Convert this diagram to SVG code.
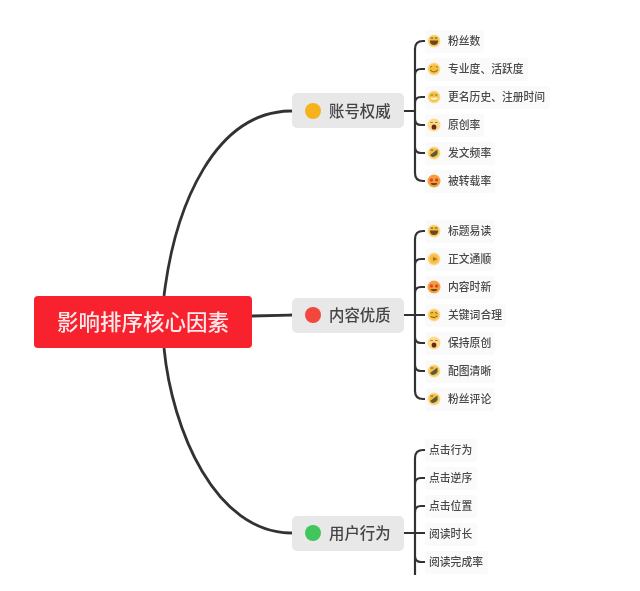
<svg xmlns="http://www.w3.org/2000/svg" width="640" height="591" viewBox="0 0 640 591">
<style>
.c{fill:none;stroke:#333;stroke-width:2.2;stroke-linecap:butt}
.m{fill:none;stroke:#333;stroke-width:2.8}
text{font-family:"Noto Sans CJK SC","Liberation Sans",sans-serif;font-weight:500}
.l{font-size:10.8px;fill:#4a4a4a;dominant-baseline:central}
.b{font-size:15.4px;fill:#444;dominant-baseline:central}
.r{font-size:21.5px;fill:#fde8ea;text-anchor:middle;dominant-baseline:central}
.p{fill:#fafafa}
.box{fill:#e8e8e8}
.d{fill:#6a4a22}
use{filter:url(#emo)}
</style>
<defs>
<filter id="soft" x="-5%" y="-5%" width="110%" height="110%"><feGaussianBlur stdDeviation="0.45"/></filter>
<filter id="emo" x="-30%" y="-30%" width="160%" height="160%"><feGaussianBlur stdDeviation="0.5"/></filter>
<radialGradient id="g"><stop offset="0.55" stop-color="#f5bd3c"/><stop offset="1" stop-color="#fbe3a0"/></radialGradient>
<g id="e-laugh"><circle r="6.5" fill="url(#g)"/><path d="M-4.2 -0.5H4.2Q4 4 0 4Q-4 4 -4.2 -0.5Z" class="d"/><path d="M-3.5 -3H-1M1 -3H3.5" stroke="#6a4a22" stroke-width="1" fill="none"/></g>
<g id="e-smile"><circle r="6.5" fill="url(#g)"/><path d="M-3.8 0.8Q0 5 3.8 0.8" stroke="#a8701c" stroke-width="1.2" fill="none"/><path d="M-4 -1.5L-2 -2.8M4 -1.5L2 -2.8" stroke="#a8701c" stroke-width="1" fill="none"/></g>
<g id="e-grin"><circle r="6.5" fill="url(#g)"/><path d="M-3.8 0.5H3.8Q3.5 3 0 3Q-3.5 3 -3.8 0.5Z" fill="#fff3d0"/><path d="M-3.5 -2H-1M1 -2H3.5" stroke="#a8701c" stroke-width="1" fill="none"/></g>
<g id="e-wow"><circle r="6.5" fill="#fbdc8c"/><ellipse cy="2" rx="2.4" ry="2.6" fill="#6b2a12"/><path d="M-3.5 -2.5H-1.2M1.2 -2.5H3.5" stroke="#a8701c" stroke-width="1" fill="none"/></g>
<g id="e-wink"><circle r="6.5" fill="url(#g)"/><path d="M-4 2L3.5 -3.5V1Q1 4.5 -2 4Z" fill="#5c5a3a"/><path d="M-3.5 -3H-1" stroke="#5c5a3a" stroke-width="1"/></g>
<g id="e-heart"><circle r="6.5" fill="#f4a03c"/><path d="M-3.5 2H3.5Q3 4.2 0 4.2Q-3 4.2 -3.5 2Z" class="d"/><circle cx="-2.6" cy="-1" r="1.7" fill="#e2432e"/><circle cx="2.6" cy="-1" r="1.7" fill="#e2432e"/></g>
<g id="e-tongue"><circle r="6.5" fill="url(#g)"/><path d="M-1 -2L3.5 0L-1 2Z" fill="#a8701c"/></g>
<g id="e-relax"><circle r="6.5" fill="url(#g)"/><path d="M-3.5 1.5Q0 4 3.5 1M-3.5 -2L-1 -2.5M1 -2.5L3.5 -1.5" stroke="#8a5a16" stroke-width="1" fill="none"/></g>
</defs>
<rect width="640" height="591" fill="#fff"/>
<g filter="url(#soft)">
<g id="connectors">
<path class="m" d="M164 296C175 205 215 111 292 111"/>
<path class="m" d="M252 316L292 315"/>
<path class="m" d="M164 348C172 430 215 533 292 533"/>
<path class="c" d="M404 111H415M425 41H423Q415 41 415 49V173Q415 181 423 181H425M425 69H421Q415 69 415 75M425 97H421Q415 97 415 103M425 125H421Q415 125 415 119M425 153H421Q415 153 415 147"/>
<path class="c" d="M404 315H425M425 231H423Q415 231 415 239V391Q415 399 423 399H425M425 259H421Q415 259 415 265M425 287H421Q415 287 415 293M425 343H421Q415 343 415 337M425 371H421Q415 371 415 365"/>
<path class="c" d="M404 533H425M425 450H423Q415 450 415 458V575M425 478H421Q415 478 415 484M425 506H421Q415 506 415 512M425 562H421Q415 562 415 556"/>
</g>
<g id="root"><rect x="34" y="296" width="218" height="52" rx="4" fill="#f8202f"/><text class="r" x="143" y="320.5">影响排序核心因素</text></g>

<g id="branch-account"><rect class="box" x="292" y="93" width="112" height="35" rx="5"/><circle cx="313" cy="111" r="8" fill="#f6b21e"/><text class="b" x="329" y="110">账号权威</text></g>
<g id="branch-content"><rect class="box" x="292" y="298" width="112" height="35" rx="5"/><circle cx="313" cy="315" r="8" fill="#f2463c"/><text class="b" x="329" y="314">内容优质</text></g>
<g id="branch-user"><rect class="box" x="292" y="516" width="112" height="35" rx="5"/><circle cx="313" cy="533" r="8" fill="#3fc65a"/><text class="b" x="329" y="532">用户行为</text></g>

<g id="leaf-a1"><rect class="p" x="425" y="30" width="59" height="23" rx="3"/><use href="#e-laugh" x="434" y="41"/><text class="l" x="448" y="40">粉丝数</text></g>
<g id="leaf-a2"><rect class="p" x="425" y="58" width="103" height="23" rx="3"/><use href="#e-smile" x="434" y="69"/><text class="l" x="448" y="68">专业度、活跃度</text></g>
<g id="leaf-a3"><rect class="p" x="425" y="86" width="125" height="23" rx="3"/><use href="#e-grin" x="434" y="97"/><text class="l" x="448" y="96">更名历史、注册时间</text></g>
<g id="leaf-a4"><rect class="p" x="425" y="114" width="59" height="23" rx="3"/><use href="#e-wow" x="434" y="125"/><text class="l" x="448" y="124">原创率</text></g>
<g id="leaf-a5"><rect class="p" x="425" y="142" width="70" height="23" rx="3"/><use href="#e-wink" x="434" y="153"/><text class="l" x="448" y="152">发文频率</text></g>
<g id="leaf-a6"><rect class="p" x="425" y="170" width="70" height="23" rx="3"/><use href="#e-heart" x="434" y="181"/><text class="l" x="448" y="180">被转载率</text></g>

<g id="leaf-c1"><rect class="p" x="425" y="220" width="70" height="23" rx="3"/><use href="#e-laugh" x="434" y="231"/><text class="l" x="448" y="230">标题易读</text></g>
<g id="leaf-c2"><rect class="p" x="425" y="248" width="70" height="23" rx="3"/><use href="#e-tongue" x="434" y="259"/><text class="l" x="448" y="258">正文通顺</text></g>
<g id="leaf-c3"><rect class="p" x="425" y="276" width="70" height="23" rx="3"/><use href="#e-heart" x="434" y="287"/><text class="l" x="448" y="286">内容时新</text></g>
<g id="leaf-c4"><rect class="p" x="425" y="304" width="81" height="23" rx="3"/><use href="#e-relax" x="434" y="315"/><text class="l" x="448" y="314">关键词合理</text></g>
<g id="leaf-c5"><rect class="p" x="425" y="332" width="70" height="23" rx="3"/><use href="#e-wow" x="434" y="343"/><text class="l" x="448" y="342">保持原创</text></g>
<g id="leaf-c6"><rect class="p" x="425" y="360" width="70" height="23" rx="3"/><use href="#e-wink" x="434" y="371"/><text class="l" x="448" y="370">配图清晰</text></g>
<g id="leaf-c7"><rect class="p" x="425" y="388" width="70" height="23" rx="3"/><use href="#e-wink" x="434" y="399"/><text class="l" x="448" y="398">粉丝评论</text></g>

<g id="leaf-u1"><rect class="p" x="425" y="439" width="52" height="23" rx="3"/><text class="l" x="429" y="449">点击行为</text></g>
<g id="leaf-u2"><rect class="p" x="425" y="467" width="52" height="23" rx="3"/><text class="l" x="429" y="477">点击逆序</text></g>
<g id="leaf-u3"><rect class="p" x="425" y="495" width="52" height="23" rx="3"/><text class="l" x="429" y="505">点击位置</text></g>
<g id="leaf-u4"><rect class="p" x="425" y="523" width="52" height="23" rx="3"/><text class="l" x="429" y="533">阅读时长</text></g>
<g id="leaf-u5"><rect class="p" x="425" y="551" width="63" height="23" rx="3"/><text class="l" x="429" y="561">阅读完成率</text></g>
</g>
</svg>
